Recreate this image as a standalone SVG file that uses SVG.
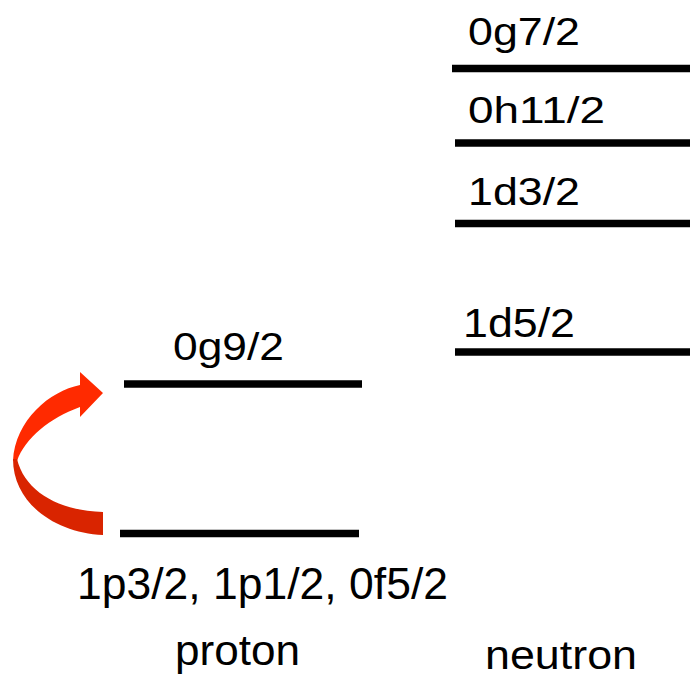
<svg xmlns="http://www.w3.org/2000/svg" width="690" height="677" viewBox="0 0 690 677">
<style>
.lvl{stroke:#000;stroke-width:7.5;fill:none}
.t{font-family:"Liberation Sans","Open Sans",sans-serif;fill:#000}
</style>
<rect width="690" height="677" fill="#fff"/>
<g id="n-0g7_2"><line class="lvl" x1="452" y1="68.5" x2="690" y2="68.5"/><text class="t" x="468" y="45" font-size="38" textLength="112" lengthAdjust="spacingAndGlyphs">0g7/2</text></g>
<g id="n-0h11_2"><line class="lvl" x1="455" y1="143" x2="690" y2="143"/><text class="t" x="468" y="123" font-size="37" textLength="137" lengthAdjust="spacingAndGlyphs">0h11/2</text></g>
<g id="n-1d3_2"><line class="lvl" x1="455" y1="223.5" x2="690" y2="223.5"/><text class="t" x="468" y="205" font-size="39" textLength="112" lengthAdjust="spacingAndGlyphs">1d3/2</text></g>
<g id="n-1d5_2"><line class="lvl" x1="455" y1="352" x2="690" y2="352"/><text class="t" x="463" y="337" font-size="41" textLength="112" lengthAdjust="spacingAndGlyphs">1d5/2</text></g>
<g id="n-0g9_2"><line class="lvl" x1="124" y1="384" x2="362" y2="384"/><text class="t" x="173" y="360" font-size="38" textLength="111" lengthAdjust="spacingAndGlyphs">0g9/2</text></g>
<g id="n-lower"><line class="lvl" x1="120" y1="533.5" x2="359" y2="533.5"/><text class="t" x="77" y="599" font-size="45" textLength="371" lengthAdjust="spacingAndGlyphs">1p3/2, 1p1/2, 0f5/2</text></g>
<g id="labels"><text class="t" x="175" y="665" font-size="43" textLength="125" lengthAdjust="spacingAndGlyphs">proton</text><text class="t" x="485" y="669" font-size="40" textLength="152" lengthAdjust="spacingAndGlyphs">neutron</text></g>
<g id="connectors">
<path fill="#FF2A00" d="M80,385 C50,391 15,420 13,461 L17,461 C25,438 50,418 80,407 L80,417 L103,393 L80,372 Z"/>
<path fill="#D92400" d="M13,459 C13,503 55,533 103,535 L103,512 C60,511 25,492 17,459 Z"/>
</g>
</svg>
